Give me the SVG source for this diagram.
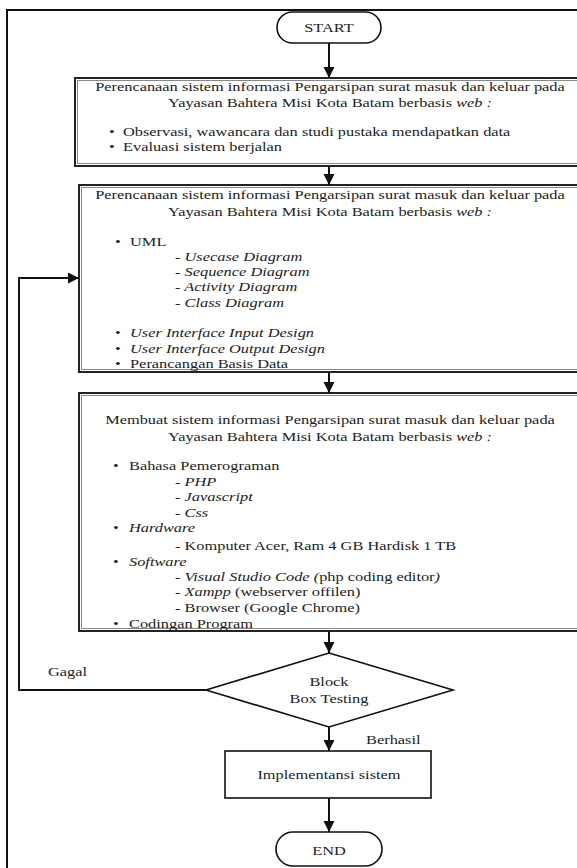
<svg xmlns="http://www.w3.org/2000/svg" width="577" height="868" viewBox="0 0 577 868">
<style>
text{font-family:"Liberation Serif","Times New Roman",serif;font-size:13px;fill:#222}
.c{text-anchor:middle}
.i{font-style:italic}
.frame{fill:none;stroke:#111;stroke-width:2}
.box{fill:#fff;stroke:#222;stroke-width:2}
.inner{fill:none;stroke:#888;stroke-width:1}
.shape{fill:#fff;stroke:#111;stroke-width:1.6}
.conn{fill:none;stroke:#111;stroke-width:2}
</style>
<defs>
<marker id="ah" viewBox="0 0 10 10" refX="10" refY="5" markerUnits="userSpaceOnUse" markerWidth="11" markerHeight="12" orient="auto">
<path d="M0,0 L10,5 L0,10 z" fill="#111"/>
</marker>
</defs>
<rect width="577" height="868" fill="#fff"/>
<rect class="frame" x="7" y="10" width="620" height="900"/>

<g id="start">
<rect class="shape" x="277" y="12" width="104" height="31" rx="15.5" stroke-width="2"/>
<g transform="scale(1.26 1)"><text class="c" x="261.1" y="32">START</text></g>
</g>

<g id="box1">
<rect class="box" x="75" y="78" width="520" height="88"/>
<rect class="inner" x="77.5" y="80.5" width="520" height="83"/>
<g transform="scale(1.26 1)">
<text class="c" x="261.9" y="91">Perencanaan sistem informasi Pengarsipan surat masuk dan keluar pada</text>
<text class="c" x="261.9" y="107">Yayasan Bahtera Misi Kota Batam berbasis <tspan class="i">web :</tspan></text>
<text x="86.5" y="136">•</text><text x="97.6" y="136">Observasi, wawancara dan studi pustaka mendapatkan data</text>
<text x="86.5" y="151">•</text><text x="97.6" y="151">Evaluasi sistem berjalan</text>
</g>
</g>

<g id="box2">
<rect class="box" x="79" y="185" width="520" height="187"/>
<rect class="inner" x="81.5" y="187.5" width="520" height="182"/>
<g transform="scale(1.26 1)">
<text class="c" x="261.9" y="199">Perencanaan sistem informasi Pengarsipan surat masuk dan keluar pada</text>
<text class="c" x="261.9" y="216">Yayasan Bahtera Misi Kota Batam berbasis <tspan class="i">web :</tspan></text>
<text x="91.3" y="246">•</text><text x="103.2" y="246">UML</text>
<text class="i" x="138.9" y="261">- Usecase Diagram</text>
<text class="i" x="138.9" y="276">- Sequence Diagram</text>
<text class="i" x="138.9" y="291">- Activity Diagram</text>
<text class="i" x="138.9" y="307">- Class Diagram</text>
<text x="91.3" y="337">•</text><text class="i" x="103.2" y="337">User Interface Input Design</text>
<text x="91.3" y="353">•</text><text class="i" x="103.2" y="353">User Interface Output Design</text>
<text x="91.3" y="368">•</text><text x="103.2" y="368">Perancangan Basis Data</text>
</g>
</g>

<g id="box3">
<rect class="box" x="79" y="393" width="520" height="238"/>
<rect class="inner" x="81.5" y="395.5" width="520" height="233"/>
<g transform="scale(1.26 1)">
<text class="c" x="261.9" y="424">Membuat sistem informasi Pengarsipan surat masuk dan keluar pada</text>
<text class="c" x="261.9" y="441">Yayasan Bahtera Misi Kota Batam berbasis <tspan class="i">web :</tspan></text>
<text x="89.7" y="470">•</text><text x="102.4" y="470">Bahasa Pemerograman</text>
<text x="138.9" y="486">- <tspan class="i">PHP</tspan></text>
<text x="138.9" y="501">- <tspan class="i">Javascript</tspan></text>
<text x="138.9" y="517">- <tspan class="i">Css</tspan></text>
<text x="89.7" y="532">•</text><text class="i" x="102.4" y="532">Hardware</text>
<text x="138.9" y="550">- Komputer Acer, Ram 4 GB Hardisk 1 TB</text>
<text x="89.7" y="566">•</text><text class="i" x="102.4" y="566">Software</text>
<text x="138.9" y="581">- <tspan class="i">Visual Studio Code (</tspan>php coding editor<tspan class="i">)</tspan></text>
<text x="138.9" y="596">- <tspan class="i">Xampp</tspan> (webserver offilen)</text>
<text x="138.9" y="612">- Browser (Google Chrome)</text>
<text x="89.7" y="628">•</text><text x="102.4" y="628">Codingan Program</text>
</g>
</g>

<g id="decision">
<polygon class="shape" points="329,653 453,690 329,727 206,690"/>
<g transform="scale(1.26 1)">
<text class="c" x="261.1" y="686">Block</text>
<text class="c" x="261.1" y="703">Box Testing</text>
</g>
</g>

<g id="implementasi">
<rect class="shape" x="225" y="751" width="206" height="47"/>
<g transform="scale(1.26 1)"><text class="c" x="261.1" y="779">Implementansi sistem</text></g>
</g>

<g id="end">
<rect class="shape" x="276" y="832" width="106" height="34" rx="17" stroke-width="2"/>
<g transform="scale(1.26 1)"><text class="c" x="261.1" y="855">END</text></g>
</g>

<g id="connectors">
<line class="conn" x1="329" y1="43" x2="329" y2="78" marker-end="url(#ah)"/>
<line class="conn" x1="329" y1="166" x2="329" y2="185" marker-end="url(#ah)"/>
<line class="conn" x1="329" y1="372" x2="329" y2="393" marker-end="url(#ah)"/>
<line class="conn" x1="329" y1="631" x2="329" y2="653" marker-end="url(#ah)"/>
<line class="conn" x1="329" y1="727" x2="329" y2="751" marker-end="url(#ah)"/>
<line class="conn" x1="329" y1="798" x2="329" y2="832" marker-end="url(#ah)"/>
<polyline class="conn" points="206,690 19,690 19,278 79,278" marker-end="url(#ah)"/>
<g transform="scale(1.26 1)">
<text x="38.1" y="676">Gagal</text>
<text x="290.5" y="744">Berhasil</text>
</g>
</g>
</svg>
